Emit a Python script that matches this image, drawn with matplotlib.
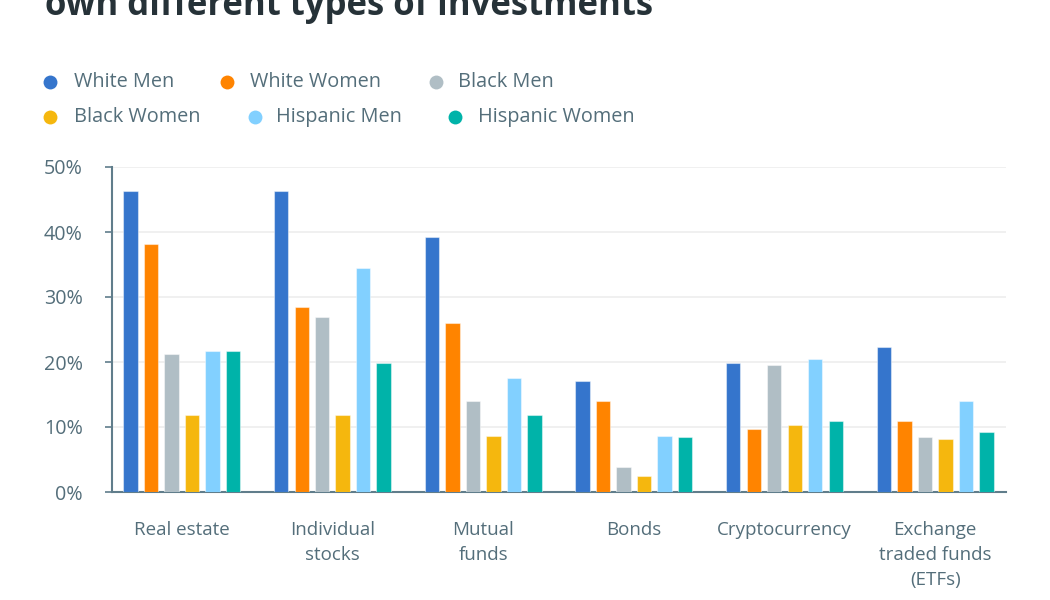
import matplotlib
matplotlib.use("Agg")
import matplotlib.pyplot as plt
import numpy as np
from matplotlib.lines import Line2D

plt.rcParams['font.family'] = ['Open Sans', 'DejaVu Sans']

categories = ["Real estate", "Individual\nstocks", "Mutual\nfunds", "Bonds",
              "Cryptocurrency", "Exchange\ntraded funds\n(ETFs)"]
series_names = ["White Men", "White Women", "Black Men",
                "Black Women", "Hispanic Men", "Hispanic Women"]
white_men = [46.3, 46.3, 39.3, 17.1, 19.8, 22.3]
white_women = [38.1, 28.5, 26.0, 14.0, 9.7, 10.9]
black_men = [21.2, 27.0, 14.0, 3.8, 19.5, 8.5]
black_women = [11.8, 11.8, 8.6, 2.5, 10.3, 8.2]
hispanic_men = [21.7, 34.4, 17.6, 8.6, 20.5, 14.0]
hispanic_women = [21.7, 19.8, 11.8, 8.5, 10.9, 9.2]
yticks = [0, 10, 20, 30, 40, 50]
ytick_labels = ["0%", "10%", "20%", "30%", "40%", "50%"]
title = "own different types of investments"

series = [white_men, white_women, black_men, black_women, hispanic_men, hispanic_women]
colors = ["#3575cc", "#ff8400", "#b0bec5", "#f5b70e", "#82d0ff", "#00b3a9"]

W, H = 1050, 600
fig = plt.figure(figsize=(W / 100, H / 100), dpi=100)
ax = fig.add_axes([112 / W, 1 - 492 / H, (1006 - 112) / W, (492 - 167) / H])

x = np.arange(len(categories))
pitch = 0.136
width = 0.0956
for i, (vals, c) in enumerate(zip(series, colors)):
    ax.bar(x + (i - 2.5) * pitch, vals, width=width, color=c,
           edgecolor=(1, 1, 1, 0.45), linewidth=0.8, zorder=3)

ax.set_xlim(-0.463, 5.47)
ax.set_ylim(0, 50)
ax.set_yticks(yticks)
ax.set_yticklabels(ytick_labels)
ax.set_xticks(x)
ax.set_xticklabels(categories, linespacing=1.5)

text_col = "#546e7a"
ax.tick_params(axis='y', length=5, width=1.2, color="#607d8b", pad=16,
               labelsize=14.2, labelcolor=text_col)
ax.tick_params(axis='x', length=0, pad=21, labelsize=13.5, labelcolor=text_col)
ax.yaxis.grid(True, color="#eeeeee", linewidth=1.2, zorder=0)
ax.set_axisbelow(True)
for s in ["top", "right"]:
    ax.spines[s].set_visible(False)
ax.spines["left"].set_color("#607d8b")
ax.spines["left"].set_linewidth(1.5)
ax.spines["bottom"].set_color("#607d8b")
ax.spines["bottom"].set_linewidth(1.5)

# title (cut off at top)
fig.text(45 / W, 1 - 15 / H, title, ha='left', va='baseline', fontsize=25,
         fontweight='bold', color="#263238")

# legend (flow layout)
circle_x = [50, 227, 436, 50, 255, 455]
text_x = [74, 250, 458, 74, 276, 478]
row_y = [82, 82, 82, 117, 117, 117]
for name, c, cx, tx, ry in zip(series_names, colors, circle_x, text_x, row_y):
    fig.add_artist(Line2D([cx / W], [1 - ry / H], marker='o', markersize=10,
                          color=c, markeredgewidth=0, transform=fig.transFigure))
    fig.text(tx / W, 1 - ry / H, name, ha='left', va='center', fontsize=14.3,
             color=text_col)

fig.savefig("out.png", dpi=100)
